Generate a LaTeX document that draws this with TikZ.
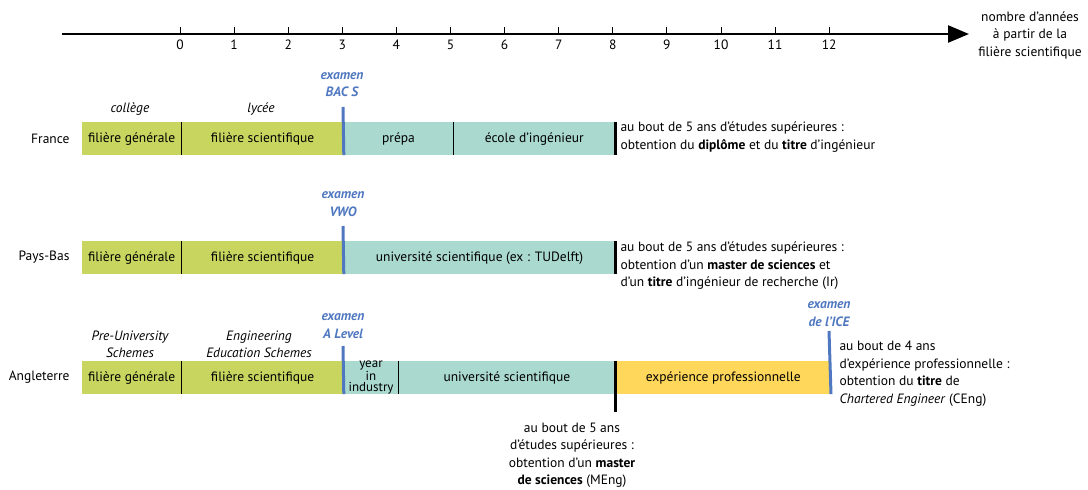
\documentclass[tikz,border=0pt]{standalone}
\usepackage{fontspec}
\setmainfont{PT Sans}
\usetikzlibrary{arrows.meta,positioning}

\definecolor{vert}{RGB}{200,214,96}
\definecolor{turquoise}{RGB}{170,217,208}
\definecolor{jaune}{RGB}{255,215,90}
\definecolor{bleu}{RGB}{80,120,192}

\newcommand{\taille}{\fontsize{13.5}{17.5}\selectfont}

\tikzset{
    every node/.style={font=\taille},
    seg/.style={anchor=west, inner sep=0pt, minimum height=33pt, text height=10pt, text depth=3pt},
    sep/.style={black, line width=1pt},
    fin/.style={black, line width=3pt},
    examline/.style={bleu, line width=3pt},
    examtxt/.style={bleu, align=center, font=\taille\bfseries\itshape},
    stage/.style={align=center, font=\taille\itshape},
    pays/.style={anchor=east},
    resultat/.style={anchor=west, align=left}
}

\begin{document}
\begin{tikzpicture}[x=1pt, y=-1pt]
    \useasboundingbox (0,0) rectangle (1088,490);

    % axe des annees
    \coordinate (ax-start) at (62,34);
    \coordinate (ax-end) at (969,34);
    \draw[line width=2.5pt, -{Triangle[length=21pt,width=17pt]}] (ax-start) -- (ax-end);
    \foreach \n in {0,...,12} {
        \draw[line width=1pt] (180+54.1*\n,27) -- (180+54.1*\n,34);
        \node (tick-\n) at (180+54.1*\n,45) {\n};
    }
    \node[align=center] (ax-label) at (1030,35) {nombre d'années\\à partir de la\\filière scientifique};

    % France
    \node[pays] (fr) at (73,138.5) {France};
    \node[seg, fill=vert, minimum width=99pt] (fr-gen) at (82,138.5) {filière générale};
    \node[seg, fill=vert, minimum width=162pt, right=0pt of fr-gen] (fr-sci) {filière scientifique};
    \node[seg, fill=turquoise, minimum width=109pt, right=0pt of fr-sci] (fr-prepa) {prépa};
    \node[seg, fill=turquoise, minimum width=162pt, right=0pt of fr-prepa] (fr-ecole) {école d'ingénieur};
    \draw[sep] (fr-gen.north east) -- (fr-gen.south east);
    \draw[sep] (fr-prepa.north east) -- (fr-prepa.south east);
    \node[stage] (fr-college) at (130,109) {collège};
    \node[stage] (fr-lycee) at (261,109) {lycée};
    \node[examtxt] (fr-bac) at (342,84.5) {examen\\BAC S};
    \coordinate (fr-bac-top) at (343,107);
    \draw[examline] (fr-bac-top) -- (fr-sci.south east);
    \draw[fin] (fr-ecole.north east) -- (fr-ecole.south east);
    \node[resultat] (fr-res) at (617,137) {au bout de 5 ans d'études supérieures :\\obtention du \textbf{diplôme} et du \textbf{titre} d'ingénieur};

    % Pays-Bas
    \node[pays] (pb) at (73,257.5) {Pays-Bas};
    \node[seg, fill=vert, minimum width=99pt] (pb-gen) at (82,257.5) {filière générale};
    \node[seg, fill=vert, minimum width=162pt, right=0pt of pb-gen] (pb-sci) {filière scientifique};
    \node[seg, fill=turquoise, minimum width=271pt, right=0pt of pb-sci] (pb-univ) {université scientifique (ex : TUDelft)};
    \draw[sep] (pb-gen.north east) -- (pb-gen.south east);
    \node[examtxt] (pb-vwo) at (343,204) {examen\\VWO};
    \coordinate (pb-vwo-top) at (343,226);
    \draw[examline] (pb-vwo-top) -- (pb-sci.south east);
    \draw[fin] (pb-univ.north east) -- (pb-univ.south east);
    \node[resultat] (pb-res) at (617,266) {au bout de 5 ans d'études supérieures :\\obtention d'un \textbf{master de sciences} et\\d'un \textbf{titre} d'ingénieur de recherche (Ir)};

    % Angleterre
    \node[pays] (ag) at (73,377.5) {Angleterre};
    \node[seg, fill=vert, minimum width=99pt] (ag-gen) at (82,377.5) {filière générale};
    \node[seg, fill=vert, minimum width=162pt, right=0pt of ag-gen] (ag-sci) {filière scientifique};
    \node[seg, fill=turquoise, minimum width=54pt, right=0pt of ag-sci] (ag-year) {};
    \node[align=center, font=\fontsize{13}{11.5}\selectfont] (ag-year-txt) at (ag-year.center) {year\\in\\industry};
    \node[seg, fill=turquoise, minimum width=217pt, right=0pt of ag-year] (ag-univ) {université scientifique};
    \node[seg, fill=jaune, minimum width=215pt, right=0pt of ag-univ] (ag-exp) {expérience professionnelle};
    \draw[sep] (ag-gen.north east) -- (ag-gen.south east);
    \draw[sep] (ag-year.north east) -- (ag-year.south east);
    \node[stage] (ag-pre) at (130,344.5) {Pre-University\\Schemes};
    \node[stage] (ag-eng) at (259,344.5) {Engineering\\Education Schemes};
    \node[examtxt] (ag-alevel) at (343,326) {examen\\A Level};
    \coordinate (ag-alevel-top) at (343,346);
    \draw[examline] (ag-alevel-top) -- (ag-sci.south east);
    \coordinate (ag-meng-bot) at (614,412);
    \draw[fin] (ag-univ.north east) -- (ag-univ.north east |- ag-meng-bot);
    \node[align=center] (ag-meng) at (572,455.5) {au bout de 5 ans\\d'études supérieures :\\obtention d'un \textbf{master}\\\textbf{de sciences} (MEng)};
    \node[examtxt] (ag-ice) at (829,314) {examen\\de l'ICE};
    \coordinate (ag-ice-top) at (829,331);
    \draw[examline] (ag-ice-top) -- (ag-exp.south east);
    \node[resultat] (ag-res) at (836,373.5) {au bout de 4 ans\\d'expérience professionnelle :\\obtention du \textbf{titre} de\\\textit{Chartered Engineer} (CEng)};
\end{tikzpicture}
\end{document}
